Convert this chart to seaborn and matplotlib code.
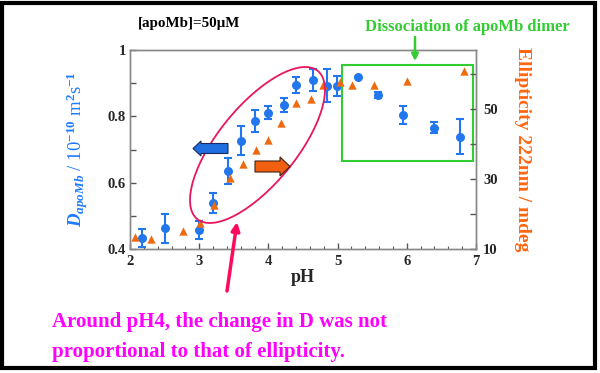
import numpy as np
import matplotlib
matplotlib.use("Agg")
import matplotlib.pyplot as plt
import matplotlib.patches as mpatches
from matplotlib.ticker import MultipleLocator
import seaborn as sns

# diffusion coefficient D (1e-10 m2/s) vs pH
ph_d = [2.17, 2.51, 2.99, 3.20, 3.41, 3.61, 3.81, 4.00, 4.23, 4.40, 4.64, 4.84, 4.99, 5.30, 5.58, 5.94, 6.40, 6.77]
d_vals = [0.432, 0.462, 0.457, 0.538, 0.635, 0.726, 0.786, 0.811, 0.834, 0.894, 0.909, 0.892, 0.892, 0.918, 0.864, 0.804, 0.766, 0.739]
d_err = [0.027, 0.045, 0.026, 0.030, 0.038, 0.044, 0.033, 0.019, 0.021, 0.025, 0.034, 0.050, 0.030, 0.0, 0.010, 0.026, 0.017, 0.054]

# ellipticity at 222 nm (mdeg) vs pH
ph_e = [2.07, 2.31, 2.76, 3.01, 3.22, 3.44, 3.63, 3.82, 4.00, 4.18, 4.40, 4.62, 4.79, 5.03, 5.21, 5.53, 6.01, 6.82]
ell = [13.5, 12.9, 15.2, 17.5, 22.6, 30.2, 34.3, 38.3, 41.1, 46.1, 51.6, 52.9, 56.8, 57.6, 57.0, 57.0, 58.0, 60.9]

blue = "#2277ee"
orange = "#ee6a10"
green = "#33cc33"

sns.set_style("ticks")
plt.rcParams["font.family"] = ["Liberation Serif", "DejaVu Serif"]
plt.rcParams["font.weight"] = "bold"
plt.rcParams["mathtext.fontset"] = "custom"
plt.rcParams["mathtext.rm"] = "Liberation Serif:bold"
plt.rcParams["mathtext.it"] = "Liberation Serif:italic:bold"
plt.rcParams["mathtext.bf"] = "Liberation Serif:bold"

fig = plt.figure(figsize=(6, 3.73), dpi=100)
ax = fig.add_axes([130 / 600, 1 - 249 / 373, 346 / 600, 199 / 373])
ax2 = ax.twinx()

ax.errorbar(ph_d, d_vals, yerr=d_err, fmt="none", ecolor=blue, elinewidth=1.5, capsize=3, capthick=1.5, zorder=3)
sns.scatterplot(x=ph_d, y=d_vals, ax=ax, color=blue, s=42, edgecolor=blue, linewidth=0, zorder=4)
sns.scatterplot(x=ph_e, y=ell, ax=ax2, color=orange, marker="^", s=36, edgecolor=orange, linewidth=0, zorder=4)

ax.set_xlim(2, 7)
ax.set_ylim(0.4, 1.0)
ax2.set_ylim(10, 10 + 199 / 3.5)
ax.xaxis.set_major_locator(MultipleLocator(1))
ax.xaxis.set_minor_locator(MultipleLocator(0.2))
ax.set_yticks([0.4, 0.5, 0.6, 0.7, 0.8, 0.9, 1.0])
ax.set_yticklabels(["0.4", "", "0.6", "", "0.8", "", "1"])
ax2.set_yticks([10, 20, 30, 40, 50, 60])
ax2.set_yticklabels(["10", "", "30", "", "50", ""])

for a in (ax, ax2):
    for sp in a.spines.values():
        sp.set_color("#888888")
        sp.set_linewidth(1.0)
    a.tick_params(direction="in", length=4, width=1, color="#555555", labelsize=10.5, pad=3)
    a.tick_params(which="minor", direction="in", length=2, width=0.8, color="#555555")
ax.tick_params(axis="y", left=True, right=False)
ax2.tick_params(axis="y", right=True, left=False, pad=5)
ax.tick_params(axis="x", top=False, pad=4)
for lab in ax.get_xticklabels() + ax.get_yticklabels() + ax2.get_yticklabels():
    lab.set_fontweight("bold")

ax.set_xlabel("pH", fontsize=13, fontweight="bold", labelpad=1)
ax.set_ylabel(r"$\mathit{D}_{\mathit{apoMb}}$ / 10$^{-10}$ m$^{2}$s$^{-1}$", fontsize=13.5, color="#1e7bff", labelpad=13)
ax2.set_ylabel("Ellipticity 222nm / mdeg", fontsize=14, fontweight="bold", color="#ff6611", rotation=270, labelpad=24)

# green box around dimer region, in data coords
ax.add_patch(mpatches.Rectangle((5.07, 0.664), 1.89, 0.292, fill=False, edgecolor=green, linewidth=1.5, zorder=5))

# overlay in pixel coords for annotations
ov = fig.add_axes([0, 0, 1, 1], zorder=10)
ov.set_xlim(0, 600)
ov.set_ylim(373, 0)
ov.axis("off")
ov.patch.set_alpha(0)

ov.add_patch(mpatches.Ellipse((257.5, 145), 191, 78, angle=-50.8, fill=False, edgecolor="#e8175d", linewidth=1.3))
ov.annotate("", xy=(237, 222), xytext=(227, 291),
            arrowprops=dict(arrowstyle="-|>", color="#ff0a5a", lw=2.5, mutation_scale=12, shrinkA=0, shrinkB=0))
ov.add_patch(mpatches.FancyArrow(228, 148.5, -27, 0, width=10, head_width=15, head_length=8,
                                 length_includes_head=False, facecolor="#1f6fe0", edgecolor="#1a2a60", linewidth=0.8))
ov.add_patch(mpatches.FancyArrow(255, 166.5, 25, 0, width=11, head_width=19, head_length=10,
                                 length_includes_head=False, facecolor="#f06010", edgecolor="#402010", linewidth=0.8))
ov.annotate("", xy=(415, 61), xytext=(415, 37),
            arrowprops=dict(arrowstyle="-|>", color=green, lw=1.8, mutation_scale=10, shrinkA=0, shrinkB=0))

ov.text(467, 27, "Dissociation of apoMb dimer", color=green, fontsize=12, fontweight="bold", ha="center", va="center")
ov.text(189, 23, "[apoMb]=50μM", color="black", fontsize=10.8, fontweight="bold", ha="center", va="center")
ov.text(52, 322, "Around pH4, the change in D was not", color="#ff00ff", fontsize=15, fontweight="bold", ha="left", va="center")
ov.text(52, 352, "proportional to that of ellipticity.", color="#ff00ff", fontsize=15, fontweight="bold", ha="left", va="center")

fig.patches.append(mpatches.Rectangle((2 / 600, 1 - 368 / 373), 593 / 600, 365 / 373, transform=fig.transFigure,
                                      fill=False, edgecolor="black", linewidth=3))

fig.savefig("out.png", dpi=100)
